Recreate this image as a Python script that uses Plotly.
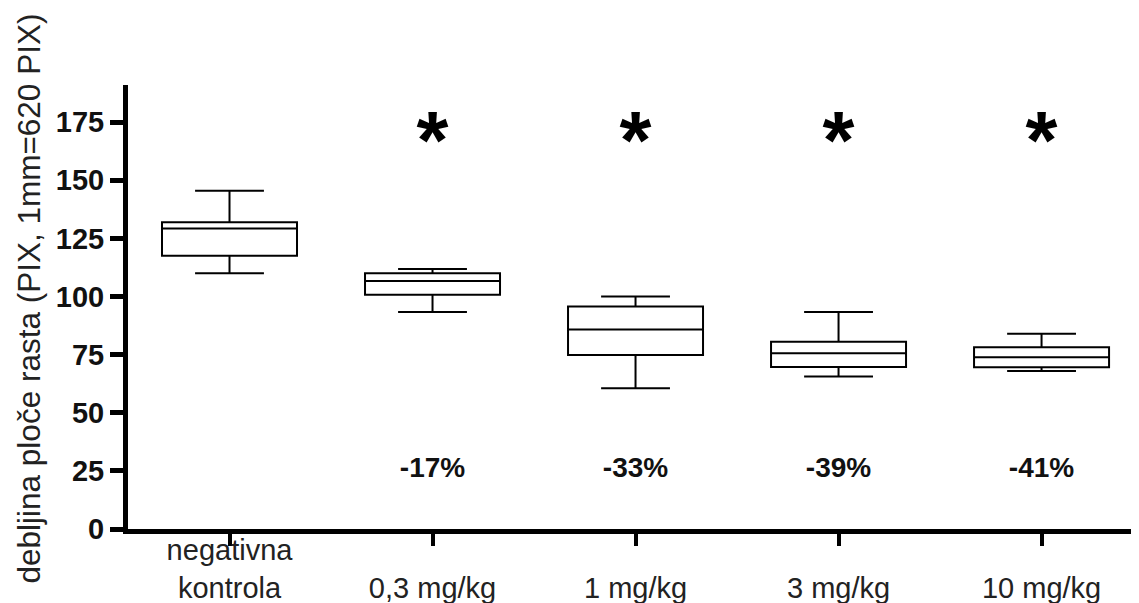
import plotly.graph_objects as go

# ---- data ----
categories = ["negativna<br>kontrola", "<br>0,3 mg/kg", "<br>1 mg/kg", "<br>3 mg/kg", "<br>10 mg/kg"]
positions = [0, 1, 2, 3, 4]
lower_whisker = [110, 93.3, 60.5, 65.6, 68.0]
q1_values = [117.6, 100.8, 74.8, 69.7, 69.6]
median_values = [129.3, 106.7, 85.8, 75.6, 73.9]
q3_values = [132.0, 110.0, 95.7, 80.5, 78.2]
upper_whisker = [145.5, 111.8, 100.0, 93.3, 84.0]

pct_positions = [1, 2, 3, 4]
pct_labels = ["-17%", "-33%", "-39%", "-41%"]
pct_y = [25.4, 25.4, 25.4, 25.4]

sig_positions = [1, 2, 3, 4]
sig_labels = ["*", "*", "*", "*"]
sig_y = [164.2, 164.2, 164.2, 164.2]

y_ticks = [0, 25, 50, 75, 100, 125, 150, 175]
y_title = "debljina ploče rasta (PIX, 1mm=620 PIX)"

FONT = "Liberation Sans, Arial, sans-serif"

fig = go.Figure()

fig.add_trace(go.Box(
    x=positions,
    q1=q1_values,
    median=median_values,
    q3=q3_values,
    lowerfence=lower_whisker,
    upperfence=upper_whisker,
    width=0.665,
    whiskerwidth=0.51,
    fillcolor="white",
    line=dict(color="black", width=2),
    boxpoints=False,
    showlegend=False,
    hoverinfo="skip",
))

fig.add_trace(go.Scatter(
    x=pct_positions, y=pct_y, text=pct_labels, mode="text",
    textposition="middle center",
    textfont=dict(family=FONT, size=28, color="#111111", weight="bold"),
    showlegend=False, hoverinfo="skip",
))

fig.add_trace(go.Scatter(
    x=sig_positions, y=sig_y, text=sig_labels, mode="text",
    textposition="middle center",
    textfont=dict(family=FONT, size=82, color="black", weight="bold"),
    showlegend=False, hoverinfo="skip",
))

# page body has an 8px margin, so the figure is sized to fit inside the window
fig.update_layout(
    width=1131, height=595,
    margin=dict(l=120, r=0, t=77, b=74, pad=0, autoexpand=False),
    paper_bgcolor="white", plot_bgcolor="white",
    font=dict(family=FONT, color="black"),
    xaxis=dict(
        range=[-0.5, 4.48], automargin=False,
        tickmode="array", tickvals=positions, ticktext=categories,
        showline=True, linecolor="black", linewidth=5,
        ticks="outside", ticklen=12, tickwidth=4, tickcolor="black",
        ticklabelstandoff=-21,
        tickfont=dict(family=FONT, size=29, color="#222222"),
        showgrid=False, zeroline=False,
    ),
    yaxis=dict(
        range=[0, 191], automargin=False,
        tickmode="array", tickvals=y_ticks,
        showline=True, linecolor="black", linewidth=5,
        ticks="outside", ticklen=13, tickwidth=5, tickcolor="black",
        tickfont=dict(family=FONT, size=29, color="#111111", weight="bold"),
        showgrid=False, zeroline=False,
    ),
    annotations=[dict(
        text=y_title, textangle=-90,
        xref="paper", yref="paper",
        x=(28 - 128) / 1011, y=(529 - 298.5) / 444,
        xanchor="center", yanchor="middle", showarrow=False,
        font=dict(family=FONT, size=31.5, color="#222222"),
    )],
)

fig.write_html("out.html")
